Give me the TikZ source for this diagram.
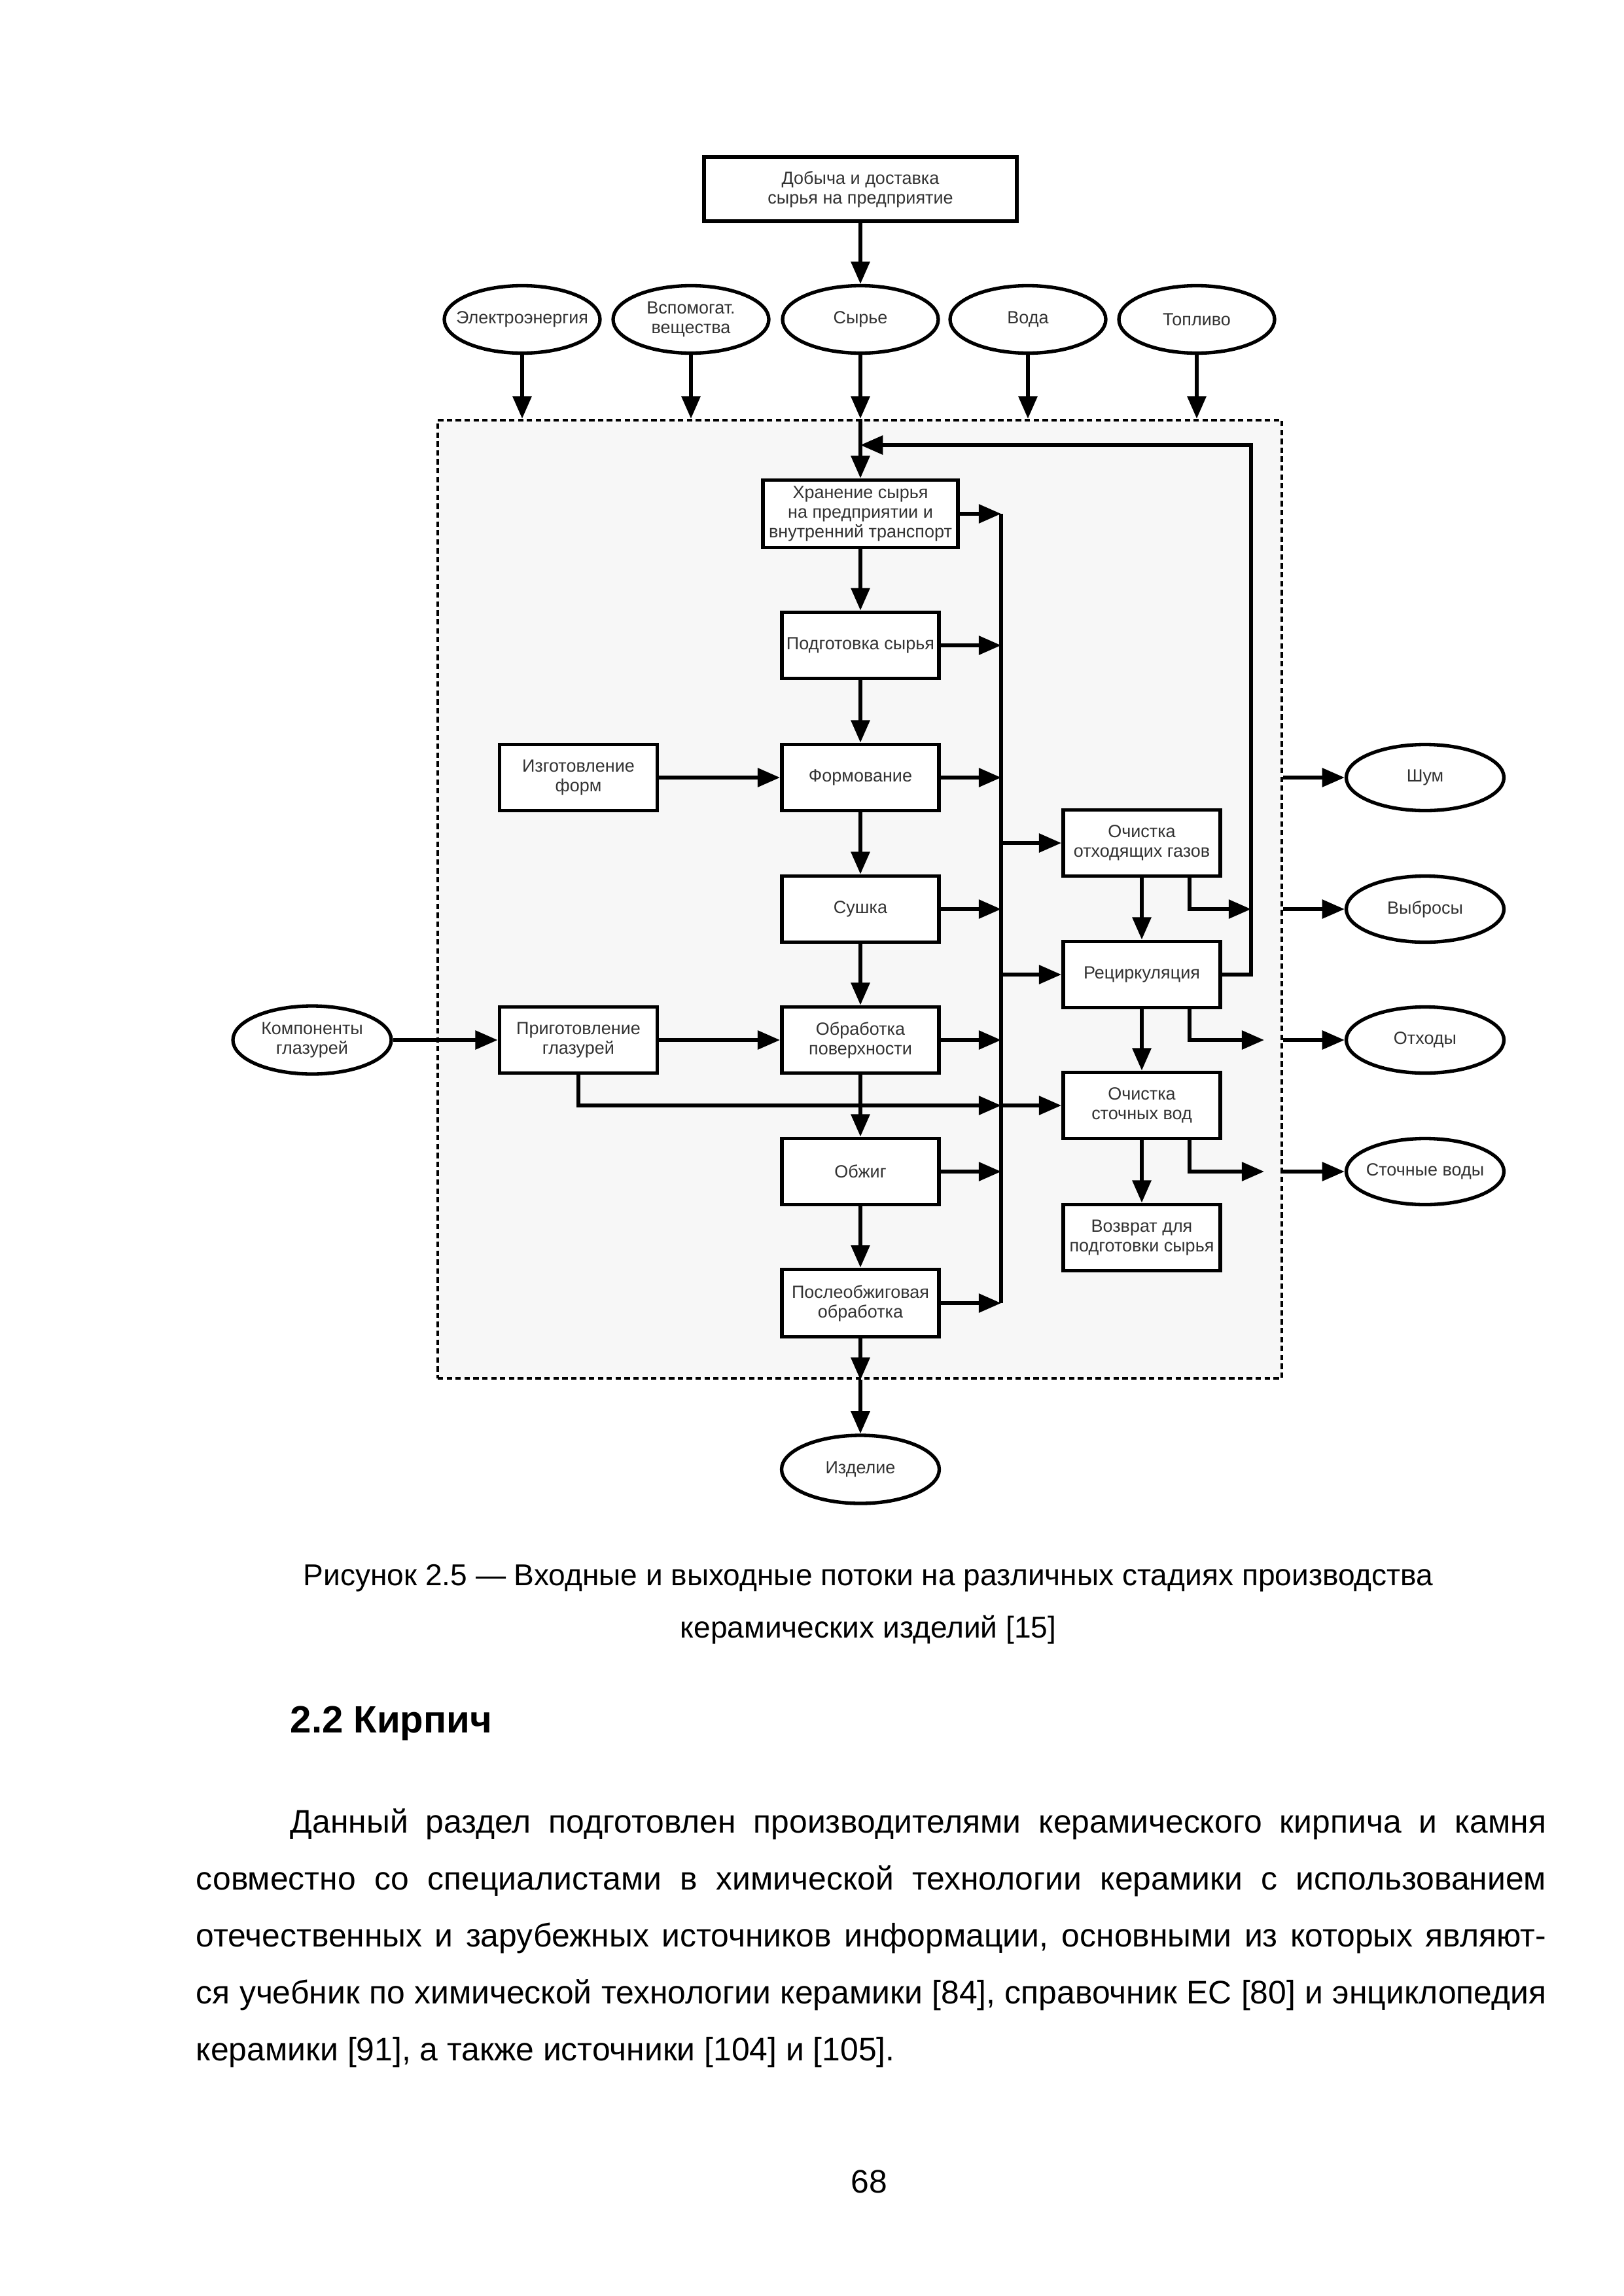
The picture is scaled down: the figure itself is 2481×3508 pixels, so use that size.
\documentclass[tikz,border=0pt]{standalone}
\usepackage{fontspec}
\setmainfont{Liberation Sans}
\usetikzlibrary{shapes.geometric,arrows.meta,calc}
\def\u{0.0846424mm}
\newcommand\dfont{\fontsize{6.5}{7.2}\selectfont}
\newcommand\bfont{\fontsize{12}{14}\selectfont}
\newcommand\cfont{\fontsize{11.1}{13}\selectfont}
\begin{document}
\begin{tikzpicture}[x=0.0846424mm,y=-0.0846424mm,
  box/.style={draw=black, line width=0.5mm, fill=white, inner sep=0pt, align=center,
    font=\dfont, text=black!80, minimum width=240*\u, minimum height=101*\u},
  ell/.style={ellipse, draw=black, line width=0.45mm, fill=white, inner xsep=-3mm, inner ysep=0pt, align=center,
    font=\dfont, text=black!80, minimum width=240*\u, minimum height=103*\u},
  arr/.style={line width=0.45mm, -{Triangle[length=2.9mm,width=2.4mm]}},
  ln/.style={line width=0.45mm},
  txt/.style={inner sep=0pt, font=\bfont}]
\fill[white] (0,0) rectangle (2481,3508);
\useasboundingbox (0,0) rectangle (2481,3508);

% dashed enterprise area
\node[draw=black, dash pattern=on 0.7mm off 0.45mm, line width=0.4mm, fill=black!3,
  minimum width=1290*\u, minimum height=1464*\u, inner sep=0pt] (area) at (1314,1374) {};

% top
\node[box, minimum width=478*\u, minimum height=98*\u] (dob) at (1315,289) {Добыча и доставка\\сырья на предприятие};
\node[ell, minimum width=238*\u] (e1) at (798,488) {Электроэнергия};
\node[ell, minimum width=238*\u] (e2) at (1056,488) {Вспомогат.\\вещества};
\node[ell, minimum width=238*\u] (syr) at (1315,488) {Сырье};
\node[ell, minimum width=238*\u] (e4) at (1571,488) {Вода};
\node[ell, minimum width=238*\u] (e5) at (1829,488) {Топливо};

% main column
\node[box, minimum width=298*\u, minimum height=103*\u] (store) at (1315,785) {Хранение сырья\\на предприятии и\\внутренний транспорт};
\node[box] (podg) at (1315,986) {Подготовка сырья};
\node[box] (form) at (1315,1188) {Формование};
\node[box] (sush) at (1315,1389) {Сушка};
\node[box] (obr) at (1315,1589) {Обработка\\поверхности};
\node[box] (obzh) at (1315,1790) {Обжиг};
\node[box, minimum height=103*\u] (posle) at (1315,1991) {Послеобжиговая\\обработка};
\node[ell, minimum width=241*\u, minimum height=104*\u] (izd) at (1315,2245) {Изделие};

% left column
\node[box, minimum width=241*\u] (izg) at (884,1188) {Изготовление\\форм};
\node[box, minimum width=241*\u] (prig) at (884,1589) {Приготовление\\глазурей};
\node[ell, minimum width=242*\u, minimum height=104*\u] (komp) at (477,1589) {Компоненты\\глазурей};

% right column
\node[box] (ochg) at (1745,1288) {Очистка\\отходящих газов};
\node[box] (rec) at (1745,1489) {Рециркуляция};
\node[box] (ochv) at (1745,1689) {Очистка\\сточных вод};
\node[box] (vozv) at (1745,1891) {Возврат для\\подготовки сырья};

% outputs
\node[ell, minimum width=241*\u, minimum height=101*\u] (shum) at (2178,1188) {Шум};
\node[ell, minimum width=241*\u, minimum height=101*\u] (vyb) at (2178,1389) {Выбросы};
\node[ell, minimum width=241*\u, minimum height=101*\u] (otx) at (2178,1589) {Отходы};
\node[ell, minimum width=241*\u, minimum height=101*\u] (stv) at (2178,1790) {Сточные воды};

\coordinate (bt) at (1530,785);
\coordinate (bb) at (1530,1991);
\coordinate (fb) at (1912,680);
\coordinate (sx) at (1932,0);

% connectors top
\draw[arr] (dob.south) -- (syr.north);
\foreach \e in {e1,e2,e4,e5} \draw[arr] (\e.south) -- (\e.south |- area.north);
\draw[arr] (syr.south) -- (syr.south |- area.north);
\draw[arr] (syr.south |- area.north) -- (store.north);

% main column arrows
\draw[arr] (store.south) -- (podg.north);
\draw[arr] (podg.south) -- (form.north);
\draw[arr] (form.south) -- (sush.north);
\draw[arr] (sush.south) -- (obr.north);
\draw[arr] (obr.south) -- (obzh.north);
\draw[arr] (obzh.south) -- (posle.north);
\draw[arr] (posle.south) -- (posle.south |- area.south);
\draw[arr] (posle.south |- area.south) -- (izd.north);

% bus
\draw[ln] (bt) -- (bb);
\foreach \b in {store,podg,form,sush,obr,obzh,posle} \draw[arr] (\b.east) -- (\b.east -| bt);
\foreach \b in {ochg,rec,ochv} \draw[arr] (\b.west -| bt) -- (\b.west);

% left inputs
\draw[arr] (izg.east) -- (form.west);
\draw[arr] (komp.east) -- (prig.west);
\draw[arr] (prig.east) -- (obr.west);
\draw[arr] (prig.south) |- (bt |- ochv.west);

% right column
\draw[arr] (ochg.south) -- (rec.north);
\draw[arr] (rec.south) -- (ochv.north);
\draw[arr] (ochv.south) -- (vozv.north);
\draw[arr] (rec.east) -| (fb) -- (fb -| store.north);
\draw[arr] ($(ochg.south east)+(-50,0)$) |- (fb |- sush.east);
\draw[arr] ($(rec.south east)+(-50,0)$) |- (sx |- obr.east);
\draw[arr] ($(ochv.south east)+(-50,0)$) |- (sx |- obzh.east);

% outputs
\foreach \o in {shum,vyb,otx,stv} \draw[arr] (area.east |- \o.west) -- (\o.west);

% caption and text
\node[inner sep=0pt, font=\cfont, anchor=base] (cap1) at (1327,2422) {Рисунок 2.5 — Входные и выходные потоки на различных стадиях производства};
\node[inner sep=0pt, font=\cfont, anchor=base] (cap2) at (1327,2502) {керамических изделий [15]};
\node[inner sep=0pt, anchor=base west, font=\fontsize{14}{16}\selectfont\bfseries] (head) at (443,2647) {2.2 Кирпич};
\node[txt, anchor=base west] (l1) at (443,2800) {\makebox[162.43mm][s]{Данный раздел подготовлен производителями керамического кирпича и камня}};
\node[txt, anchor=base west] (l2) at (299,2887) {\makebox[174.62mm][s]{совместно со специалистами в химической технологии керамики с использованием}};
\node[txt, anchor=base west] (l3) at (299,2974) {\makebox[174.62mm][s]{отечественных и зарубежных источников информации, основными из которых являют-}};
\node[txt, anchor=base west] (l4) at (299,3061) {\makebox[174.62mm][s]{ся учебник по химической технологии керамики [84], справочник ЕС [80] и энциклопедия}};
\node[txt, anchor=base west] (l5) at (299,3148) {керамики [91], а также источники [104] и [105].};
\node[txt, anchor=base] (pg) at (1328,3350) {68};
\end{tikzpicture}
\end{document}
